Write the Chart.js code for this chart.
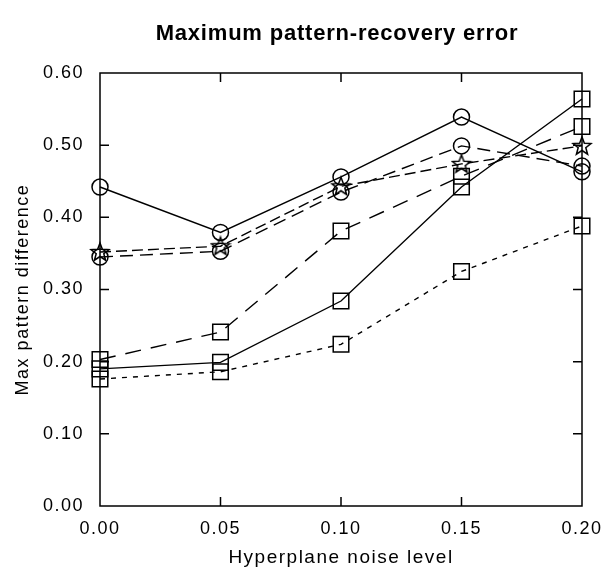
<!DOCTYPE html>
<html>
<head>
<meta charset="utf-8">
<script src="https://cdn.jsdelivr.net/npm/chart.js@4/dist/chart.umd.min.js"></script>
<style>
  body { margin: 0; background: #fff; }
  #wrap { width: 603px; height: 580px; }
</style>
</head>
<body>
<div id="wrap"><canvas id="chart"></canvas></div>
<script>
// noise levels on x
const noiseLevels = [0.00, 0.05, 0.10, 0.15, 0.20];

// circle series
const circleSolid = [0.442, 0.379, 0.456, 0.539, 0.463];
const circleDashed = [0.345, 0.353, 0.435, 0.499, 0.471];
// star series
const starDashed = [0.352, 0.360, 0.443, 0.474, 0.499];
// square series
const squareSolid = [0.190, 0.199, 0.284, 0.442, 0.564];
const squareLongDash = [0.203, 0.241, 0.381, 0.457, 0.526];
const squareDotted = [0.176, 0.186, 0.224, 0.325, 0.388];

const titleText = 'Maximum pattern-recovery error';
const xTitle = 'Hyperplane noise level';
const yTitle = 'Max pattern difference';

const FONT = "'Liberation Sans', Arial, sans-serif";

// hollow five point star for the star series
function makeStar() {
    const c = document.createElement('canvas');
    c.width = 22; c.height = 22;
    const g = c.getContext('2d');
    g.strokeStyle = '#000';
    g.lineWidth = 1.5;
    g.beginPath();
    for (let i = 0; i < 10; i++) {
        const r = i % 2 === 0 ? 9.5 : 4;
        const a = -Math.PI / 2 + i * Math.PI / 5;
        const px = 11 + r * Math.cos(a), py = 11.5 + r * Math.sin(a);
        if (i === 0) g.moveTo(px, py); else g.lineTo(px, py);
    }
    g.closePath();
    g.stroke();
    return c;
}
const starImg = makeStar();

function toPoints(vals) {
    return vals.map((v, i) => ({ x: noiseLevels[i], y: v }));
}

function series(vals, style, dash) {
    const base = {
        data: toPoints(vals),
        borderColor: '#000',
        borderWidth: 1.4,
        borderDash: dash,
        backgroundColor: 'rgba(0,0,0,0)',
        pointBorderColor: '#000',
        pointBackgroundColor: 'rgba(0,0,0,0)',
        pointBorderWidth: 1.5,
        tension: 0,
        clip: false
    };
    if (style === 'circle') { base.pointStyle = 'circle'; base.pointRadius = 8; }
    if (style === 'rect') { base.pointStyle = 'rect'; base.pointRadius = 11; }
    if (style === 'star') { base.pointStyle = starImg; base.pointRadius = 10; }
    return base;
}

// the scanned figure uses wide, slightly spaced lettering
const spacingPlugin = {
    id: 'spacing',
    beforeLayout(chart) { chart.ctx.letterSpacing = '1.5px'; },
    beforeDraw(chart) { chart.ctx.letterSpacing = '1.5px'; }
};

// frame, inward ticks and the title
const framePlugin = {
    id: 'frame',
    afterDraw(chart) {
        const { ctx, chartArea: a, scales } = chart;
        ctx.save();
        ctx.strokeStyle = '#000';
        ctx.lineWidth = 1.5;
        ctx.strokeRect(a.left, a.top, a.right - a.left, a.bottom - a.top);
        const len = 9;
        ctx.beginPath();
        [0.05, 0.10, 0.15].forEach(v => {
            const x = scales.x.getPixelForValue(v);
            ctx.moveTo(x, a.bottom); ctx.lineTo(x, a.bottom - len);
            ctx.moveTo(x, a.top); ctx.lineTo(x, a.top + len);
        });
        [0.1, 0.2, 0.3, 0.4, 0.5].forEach(v => {
            const y = scales.y.getPixelForValue(v);
            ctx.moveTo(a.left, y); ctx.lineTo(a.left + len, y);
            ctx.moveTo(a.right, y); ctx.lineTo(a.right - len, y);
        });
        ctx.stroke();
        ctx.fillStyle = '#000';
        ctx.letterSpacing = '0.8px';
        ctx.font = 'bold 22px ' + FONT;
        ctx.textAlign = 'center';
        ctx.textBaseline = 'middle';
        ctx.fillText(titleText, 337, 34);
        ctx.restore();
    }
};

new Chart(document.getElementById('chart'), {
    type: 'line',
    data: {
        datasets: [
            series(circleSolid, 'circle', []),
            series(circleDashed, 'circle', [13, 7]),
            series(starDashed, 'star', [11, 5]),
            series(squareSolid, 'rect', []),
            series(squareLongDash, 'rect', [16, 10]),
            series(squareDotted, 'rect', [5, 6])
        ]
    },
    options: {
        responsive: true,
        maintainAspectRatio: false,
        animation: false,
        layout: { padding: { top: 73, right: 21, left: 0, bottom: 0 } },
        plugins: {
            legend: { display: false },
            tooltip: { enabled: false }
        },
        scales: {
            x: {
                type: 'linear',
                min: 0,
                max: 0.2,
                grid: { display: false, drawTicks: false },
                border: { display: false },
                ticks: {
                    stepSize: 0.05,
                    padding: 12,
                    color: '#000',
                    font: { size: 18, family: FONT },
                    callback: v => v.toFixed(2)
                },
                title: {
                    display: true,
                    text: xTitle,
                    color: '#000',
                    font: { size: 19, family: FONT },
                    padding: { top: 0, bottom: 11 }
                },
                afterFit: s => { s.height = 74; s.paddingLeft = 0; s.paddingRight = 0; }
            },
            y: {
                min: 0,
                max: 0.6,
                grid: { display: false, drawTicks: false },
                border: { display: false },
                ticks: {
                    stepSize: 0.1,
                    padding: 16,
                    color: '#000',
                    font: { size: 18, family: FONT },
                    callback: v => v.toFixed(2)
                },
                title: {
                    display: true,
                    text: yTitle,
                    color: '#000',
                    font: { size: 18, family: FONT },
                    padding: { top: 12, bottom: 0 }
                },
                afterFit: s => { s.width = 100; s.paddingTop = 0; s.paddingBottom = 0; }
            }
        }
    },
    plugins: [spacingPlugin, framePlugin]
});
</script>
</body>
</html>
